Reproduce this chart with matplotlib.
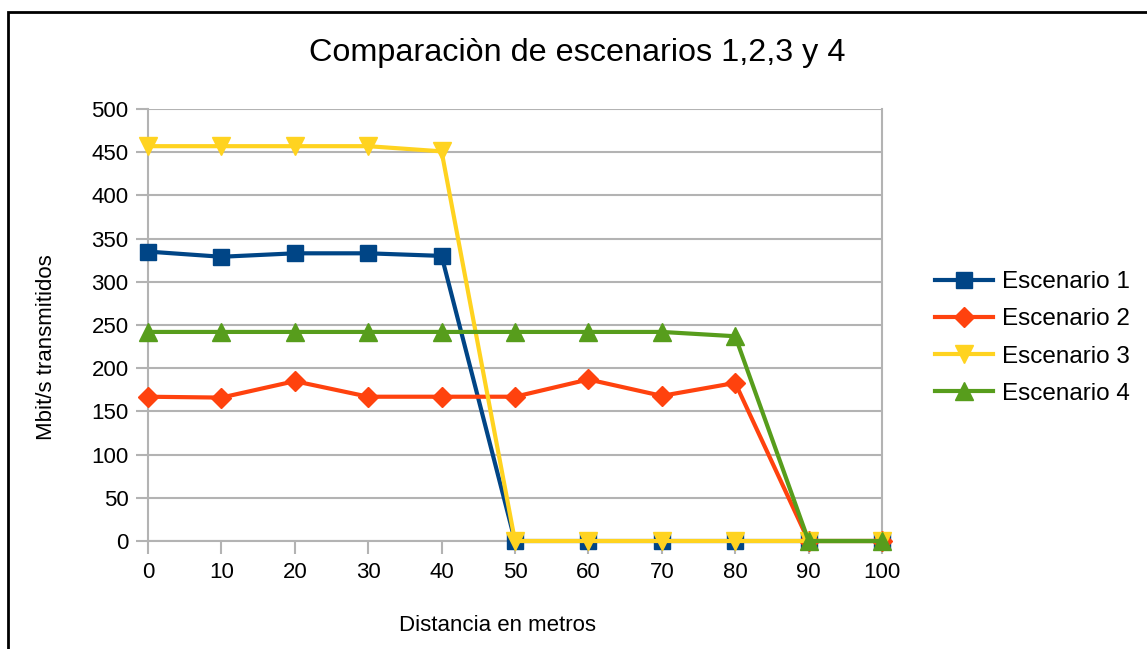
import matplotlib.pyplot as plt
from matplotlib.patches import Rectangle

plt.rcParams['font.family'] = ['Liberation Sans', 'DejaVu Sans']

distancia = [0, 10, 20, 30, 40, 50, 60, 70, 80, 90, 100]
escenario_1 = [335, 329, 333, 333, 330, 0, 0, 0, 0, 0, 0]
escenario_2 = [167, 166, 185, 167, 167, 167, 187, 168, 183, 0, 0]
escenario_3 = [457, 457, 457, 457, 451, 0, 0, 0, 0, 0, 0]
escenario_4 = [242, 242, 242, 242, 242, 242, 242, 242, 237, 0, 0]
labels = ["Escenario 1", "Escenario 2", "Escenario 3", "Escenario 4"]

series = [
    (escenario_1, "#004586", "s", 12),
    (escenario_2, "#ff420e", "D", 10.5),
    (escenario_3, "#ffd320", "v", 13.5),
    (escenario_4, "#579d1c", "^", 13.5),
]

fig = plt.figure(figsize=(11.47, 6.49), dpi=100)
ax = fig.add_axes([0.129, 0.1664, 0.64, 0.6656])

for (vals, color, marker, ms), label in zip(series, labels):
    ax.plot(distancia, vals, color=color, marker=marker, markersize=ms,
            linewidth=3, label=label, clip_on=False, zorder=3)

ax.set_xlim(0, 100)
ax.set_ylim(0, 500)
ax.set_xticks(distancia)
ax.set_yticks(range(0, 501, 50))
ax.yaxis.grid(True, color="#b3b3b3", linewidth=1.5)
ax.set_axisbelow(True)
for side in ["left", "right", "bottom"]:
    ax.spines[side].set_color("#b3b3b3")
    ax.spines[side].set_linewidth(1.5)
ax.spines["top"].set_visible(False)
ax.tick_params(axis="both", colors="#b3b3b3", labelcolor="black",
               labelsize=16, length=9, width=1.5)
ax.tick_params(axis="y", pad=5)
ax.tick_params(axis="x", pad=6)

ax.set_xlabel("Distancia en metros", fontsize=16)
ax.set_ylabel("Mbit/s transmitidos", fontsize=16)
ax.xaxis.set_label_coords(0.4755, -0.172)
ax.yaxis.set_label_coords(-0.124, 0.449)
fig.text(0.503, 0.918, "Comparaciòn de escenarios 1,2,3 y 4",
         fontsize=23.3, ha="center", va="center")

ax.legend(loc="center left", bbox_to_anchor=(1.072, 0.47), frameon=False,
          fontsize=17.5, handlelength=2.4, labelspacing=0.62, handletextpad=0.38,
          borderpad=0, borderaxespad=0)

# outer frame around the chart
fig.patches.append(Rectangle((8 / 1147, -0.1), 1.2, 1.1 - 12 / 649,
                             transform=fig.transFigure, fill=False,
                             edgecolor="black", linewidth=2))

fig.savefig("out.png", dpi=100)
